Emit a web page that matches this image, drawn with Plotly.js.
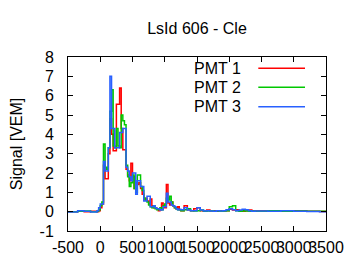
<!DOCTYPE html>
<html>
<head>
<meta charset="utf-8">
<script src="https://cdn.plot.ly/plotly-3.0.1.min.js"></script>
<style>html,body{margin:0;padding:0;background:#fff;}#chart{width:360px;height:270px;}</style>
</head>
<body>
<div id="chart"></div>
<script>
// Time bin starts (ns)
const timeNs = [-500, -350, -250, -150, -50,
  -25, 0, 25, 50, 75, 100, 125, 150, 175, 200, 225, 250, 275, 300, 325, 350, 375,
  400, 425, 450, 475, 500, 525, 550, 575, 600, 625, 650, 675, 700, 725, 750, 775,
  800, 825, 850, 875, 900, 925, 950, 975, 1000, 1025, 1050, 1075, 1100, 1125, 1150,
  1175, 1200, 1225, 1250,
  1300, 1350, 1400, 1450, 1500, 1550, 1600, 1650, 1700, 1750, 1800, 1850, 1900,
  1950, 2000, 2050, 2100, 2150, 2200, 2250, 2300, 2350, 2400,
  2600, 2800, 3000, 3200, 3400, 3500];

const pmt1 = [0, 0.05, 0, 0.02, 0,
  0.05, 0.2, 0.4, 2.4, 1.7, 1.7, 3.0, 4.8, 4.0, 3.15, 3.15, 5.55, 5.55, 6.4, 4.3, 3.2, 3.2,
  2.2, 1.9, 1.6, 2.5, 1.8, 1.2, 1.5, 1.4, 1.5, 1.2, 0.9, 0.6, 0.7, 0.55, 0.4, 0.65,
  0.3, 0.2, 0.2, 0.15, 0.05, 0.1, 0.45, 0.3, 0.2, 1.4, 0.45, 0.35, 0.5, 0.3, 0.2,
  0.15, 0.25, 0.1, 0.05,
  0.3, 0.1, 0.05, 0.15, 0.2, 0.05, 0.02, 0.08, 0.03, 0.05, 0.02, 0.05, 0.03,
  0.05, 0.12, 0.08, 0.1, 0.05, 0.02, 0.05, 0.08, 0.03, 0.05,
  0.05, 0.03, 0.05, 0.02, 0.01, 0];

const pmt2 = [0, 0.02, 0.03, 0, 0.02,
  0.1, 0.3, 0.5, 3.5, 2.3, 2.2, 3.3, 5.2, 6.3, 3.4, 3.3, 4.3, 3.4, 3.3, 5.0, 4.7, 4.5,
  2.4, 1.8, 1.3, 1.5, 1.9, 1.2, 1.0, 1.9, 1.9, 1.3, 1.1, 0.7, 0.6, 0.5, 0.35, 0.25,
  0.2, 0.3, 0.15, 0.1, 0.15, 0.2, 0.1, 0.3, 0.4, 0.7, 0.6, 0.8, 0.5, 0.3, 0.2,
  0.15, 0.1, 0.1, 0.05,
  0.1, 0.15, 0.05, 0.03, 0.05, 0.08, 0.02, 0.03, 0.05, 0.02, 0.03, 0.02, 0.03,
  0.05, 0.25, 0.3, 0.05, 0.02, 0.05, 0.03, 0.02, 0.03, 0.02,
  0.05, 0.02, 0.03, 0.02, 0.02, 0];

const pmt3 = [-0.02, 0.05, 0.02, -0.02, 0.05,
  0.2, 0.4, 0.4, 2.6, 2.1, 2.1, 3.3, 7.0, 4.3, 4.3, 3.3, 3.3, 3.3, 4.1, 4.1, 4.3, 4.3,
  2.3, 2.1, 1.8, 1.6, 2.0, 2.0, 0.9, 1.6, 1.6, 1.3, 1.3, 0.55, 0.55, 0.8, 0.8, 0.25,
  0.25, 0.3, 0.2, 0.15, 0.15, 0.08, 0.1, 0.25, 0.25, 0.95, 0.5, 0.5, 0.35, 0.3, 0.25,
  0.15, 0.1, 0.12, 0.1,
  0.2, 0.08, 0.05, 0.05, 0.2, 0.08, 0.03, 0.05, 0.03, 0.02, 0.05, 0.03, 0.05,
  0.1, 0.15, 0.1, 0.05, 0.08, 0.12, 0.1, 0.05, 0.02, 0.03,
  0.02, 0.05, 0.02, 0.01, 0, 0];

const seriesNames = ['PMT 1', 'PMT 2', 'PMT 3'];
const seriesColors = ['#ff0000', '#00c800', '#2860ff'];
const seriesValues = [pmt1, pmt2, pmt3];

const xTicks = [-500, 0, 500, 1000, 1500, 2000, 2500, 3000, 3500];
const yTicks = [-1, 0, 1, 2, 3, 4, 5, 6, 7, 8];

const FONT = 'Liberation Sans, Arial, sans-serif';

const traces = seriesValues.map((vals, i) => ({
  type: 'scatter', mode: 'lines',
  x: timeNs, y: vals, name: seriesNames[i],
  line: {shape: 'hv', color: seriesColors[i], width: 1.5},
  showlegend: false
}));

// gnuplot-style legend: text then line sample
const legY = [0.935, 0.826, 0.714];
const annotations = seriesNames.map((n, i) => ({
  xref: 'paper', yref: 'paper', x: 0.6795, y: legY[i],
  xanchor: 'right', yanchor: 'middle', text: n, showarrow: false,
  font: {family: FONT, size: 16, color: '#000'}
}));
const shapes = seriesColors.map((c, i) => ({
  type: 'line', xref: 'paper', yref: 'paper',
  x0: 0.7376, x1: 0.9186, y0: legY[i], y1: legY[i],
  line: {color: c, width: 1.5}
}));

const layout = {
  width: 360, height: 270,
  margin: {l: 68, r: 34, t: 57, b: 39},
  paper_bgcolor: '#fff', plot_bgcolor: '#fff',
  font: {family: FONT, size: 16, color: '#000'},
  title: {text: 'LsId 606 - Cle', x: 0.5, xref: 'paper', y: 0.896, yanchor: 'middle',
          font: {family: FONT, size: 16, color: '#000'}},
  xaxis: {range: [-500, 3500], tickvals: xTicks, ticktext: xTicks.map(String),
          tickangle: 0, ticks: 'inside', ticklen: 5, tickcolor: '#000',
          showline: true, linecolor: '#000', linewidth: 1, mirror: 'ticks',
          showgrid: false, zeroline: false, ticklabelstandoff: 2,
          tickfont: {family: FONT, size: 16}},
  yaxis: {range: [-1, 8], tickvals: yTicks, ticktext: yTicks.map(String),
          ticks: 'inside', ticklen: 5, tickcolor: '#000',
          showline: true, linecolor: '#000', linewidth: 1, mirror: 'ticks',
          showgrid: false, zeroline: false, ticklabelstandoff: 10,
          title: {text: 'Signal [VEM]', standoff: 12, font: {family: FONT, size: 16}},
          tickfont: {family: FONT, size: 16}},
  annotations: annotations,
  shapes: shapes
};

Plotly.newPlot('chart', traces, layout, {staticPlot: true, displayModeBar: false});
</script>
</body>
</html>
